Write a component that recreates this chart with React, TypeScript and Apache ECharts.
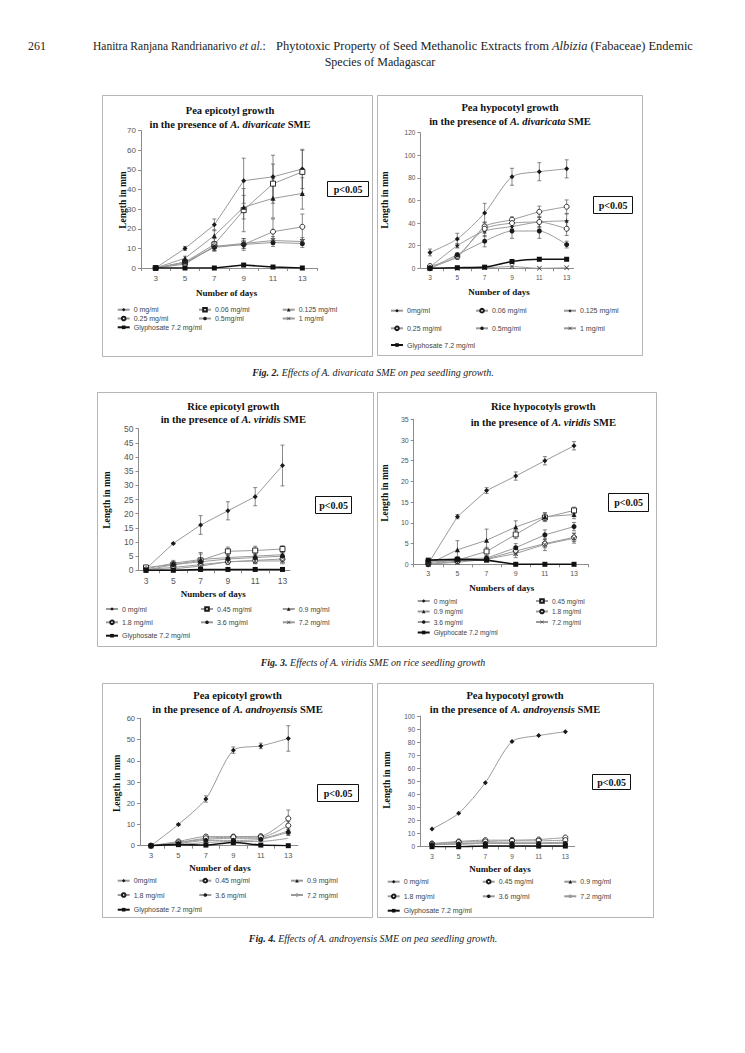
import React, { useEffect, useRef } from "react";
import * as echarts from "echarts";

// ---------- shared data ----------
const days = [3, 5, 7, 9, 11, 13];
const dayTicks = [2, 4, 6, 8, 10, 12, 14];

// Fig. 2 left: Pea epicotyl growth, A. divaricate
const p1Labels = ["0 mg/ml", "0.06 mg/ml", "0.125 mg/ml", "0.25 mg/ml", "0.5mg/ml", "1 mg/ml", "Glyphosate 7.2 mg/ml"];
const p1Values = [
  [0, 10, 22, 44.5, 46.5, 50.5],
  [0, 3, 12, 29.5, 43, 49],
  [0, 5, 16.5, 31, 35.5, 38],
  [0, 2, 11, 12, 18.5, 21],
  [0, 3, 10.5, 12, 13, 12.5],
  [0, 2.5, 11, 12.5, 14, 13.5],
  [0, 0, 0, 1.5, 0.5, 0],
];
const p1Errors = [
  [0, 1, 3, 11.5, 11, 10],
  [0, 1, 3, 11, 10, 11],
  [0, 1, 3, 6, 10, 8],
  [0, 1, 2, 3, 6.5, 6.5],
  [0, 1, 2, 2, 2, 2],
  [0, 1, 2, 2.5, 2, 2],
  [0, 0, 0, 0, 0, 0],
];

// Fig. 2 right: Pea hypocotyl growth, A. divaricata
const p2Labels = ["0mg/ml", "0.06 mg/ml", "0.125 mg/ml", "0.25 mg/ml", "0.5mg/ml", "1 mg/ml", "Glyphosate 7.2 mg/ml"];
const p2Values = [
  [14, 26, 49, 81, 85.5, 88],
  [2, 10, 37, 43, 50, 54.5],
  [1, 20, 33, 37, 41, 42],
  [0, 11, 35, 40, 41, 35],
  [0, 12, 24, 33, 33, 21],
  [0, 0, 0.5, 1.5, 0, 0.5],
  [0, 0.5, 1, 6, 8, 8],
];
const p2Errors = [
  [3, 5, 8.5, 7.5, 8, 8],
  [1, 2, 4, 2.5, 5, 6],
  [1, 2, 5, 3, 4, 6],
  [1, 2, 4, 3, 5, 6],
  [1, 1.5, 5, 6.5, 6.5, 3],
  [0, 0, 0, 0, 0, 0],
  [0, 0, 0, 0.5, 0.5, 0.5],
];

// Fig. 3 left: Rice epicotyl growth, A. viridis
const p3Labels = ["0 mg/ml", "0.45 mg/ml", "0.9 mg/ml", "1.8 mg/ml", "3.6 mg/ml", "7.2 mg/ml", "Glyphosate 7.2 mg/ml"];
const p3Values = [
  [0.5, 9.5, 16, 21, 26, 37],
  [1, 2, 3.5, 6.7, 7, 7.5],
  [0.5, 2.5, 3.8, 4.5, 5, 5.5],
  [0.3, 1, 2, 3, 3.5, 4],
  [0, 2, 3, 4, 4.5, 5],
  [0, 0.5, 1.5, 3, 3.3, 3.3],
  [0, 0, 0.3, 0.3, 0.3, 0.3],
];
const p3Errors = [
  [0.5, 0.3, 3.3, 3.2, 3.2, 7.2],
  [0.5, 1, 2.8, 1.5, 1.5, 1.2],
  [0.5, 1, 2, 1, 1, 1],
  [0.3, 0.5, 1, 1, 1, 1],
  [0.3, 0.5, 1, 1, 1, 1],
  [0.2, 0.5, 0.5, 0.5, 1, 1],
  [0, 0, 0, 0, 0, 0],
];

// Fig. 3 right: Rice hypocotyls growth, A. viridis
const p4Labels = ["0 mg/ml", "0.45 mg/ml", "0.9 mg/ml", "1.8 mg/ml", "3.6 mg/ml", "7.2 mg/ml", "Glyphocate 7.2 mg/ml"];
const p4Values = [
  [0.2, 11.5, 17.8, 21.3, 25, 28.6],
  [0.5, 1, 3.1, 7.2, 11.3, 13],
  [0, 3.5, 5.8, 9, 11.5, 12],
  [0, 0.8, 1.3, 3.2, 5, 6.5],
  [0, 1.3, 1.5, 4, 7.1, 9.1],
  [0, 0.5, 1.2, 2.6, 4.8, 6.3],
  [1, 1.2, 1, 0, 0, 0],
];
const p4Errors = [
  [0.3, 0.5, 0.7, 1, 1, 1],
  [0.3, 0.5, 1, 1, 1, 0.8],
  [0.3, 2.2, 2.7, 1.5, 1, 1],
  [0.2, 0.5, 0.5, 1, 1, 1],
  [0.2, 0.5, 0.5, 1, 1.2, 1],
  [0.2, 0.5, 0.5, 1, 1.5, 1.2],
  [0, 0, 0, 0, 0, 0],
];

// Fig. 4 left: Pea epicotyl growth, A. androyensis
const p5Labels = ["0mg/ml", "0.45 mg/ml", "0.9 mg/ml", "1.8 mg/ml", "3.6 mg/ml", "7.2 mg/ml", "Glyphosate 7.2 mg/ml"];
const p5Values = [
  [0, 10, 22, 45, 47, 50.5],
  [0, 2, 4.3, 4.3, 4.5, 12.8],
  [0, 1.5, 3, 3.5, 3.5, 7],
  [0, 1.5, 3.5, 4, 4, 9.5],
  [0, 1, 2.5, 2.5, 3, 6.3],
  [0, 0.5, 1.5, 2, 2, 3.5],
  [0, 0.5, 0.3, 1.5, 0.3, 0],
];
const p5Errors = [
  [0.3, 0.5, 1.5, 1.5, 1.3, 6],
  [0.3, 0.5, 0.7, 0.7, 0.7, 4],
  [0.2, 0.5, 0.5, 0.5, 0.5, 2],
  [0.2, 0.5, 0.5, 0.5, 0.5, 2],
  [0.2, 0.3, 0.5, 0.5, 0.5, 1.5],
  [0, 0, 0, 0, 0, 0],
  [0, 0, 0, 0, 0, 0],
];

// Fig. 4 right: Pea hypocotyl growth, A. androyensis
const p6Labels = ["0 mg/ml", "0.45 mg/ml", "0.9 mg/ml", "1.8 mg/ml", "3.6 mg/ml", "7.2 mg/ml", "Glyphosate 7.2 mg/ml"];
const p6Values = [
  [13.5, 25.5, 49, 80.5, 85, 88],
  [2.5, 4, 5, 5, 5.5, 7],
  [2, 2.5, 3, 3, 3, 3.5],
  [2, 3.5, 4, 4.5, 4.5, 5],
  [1.5, 2, 2.5, 2.5, 2.5, 2.5],
  [1.5, 2, 2.5, 2.5, 2.5, 3],
  [0, 0, 0.5, 0.5, 0.5, 0.5],
];

// ---------- styles ----------
const XPATH = "path://M1,0 L5,4 L9,0 L10,1 L6,5 L10,9 L9,10 L5,6 L1,10 L0,9 L4,5 L0,1 Z";
const STAR = "path://M5,0 L6.2,3.6 L10,3.6 L7,5.9 L8.1,9.5 L5,7.3 L1.9,9.5 L3,5.9 L0,3.6 L3.8,3.6 Z";
const SYM: any = {
  dia: { symbol: "diamond", size: 5, fill: "#1a1a1a", border: 0 },
  sqo: { symbol: "rect", size: 5, fill: "#ffffff", border: 0.9 },
  tri: { symbol: "triangle", size: 5, fill: "#1a1a1a", border: 0 },
  cio: { symbol: "circle", size: 5, fill: "#ffffff", border: 0.9 },
  cif: { symbol: "circle", size: 5, fill: "#1a1a1a", border: 0 },
  x: { symbol: XPATH, size: 5, fill: "#333333", border: 0 },
  star: { symbol: STAR, size: 5, fill: "#1a1a1a", border: 0 },
  sq: { symbol: "rect", size: 5, fill: "#111111", border: 0 },
  none: { symbol: "none", size: 0, fill: "#999999", border: 0 },
};

const SERIF = '"Liberation Serif", "Times New Roman", serif';
const SANS = '"Liberation Sans", Arial, sans-serif';

const panels: any[] = [
  {
    box: [102, 95, 271, 262], grid: [141, 130.7, 176, 137.3], xMin: 2, xMax: 14, yMax: 70, yStep: 10, tickFont: 8,
    title: "Pea epicotyl growth", species: "A. divaricate", titleX: 230, titleY: [110, 124],
    xName: "Number of days", xNamePos: [226.7, 292.7], yNamePos: [123, 200],
    pBox: [327, 181, 41, 15],
    cols: [116.7, 198, 281.7], rows: [310.7, 319.5, 328.3], perRow: 3, legendFont: 7,
    symbols: ["dia", "sqo", "tri", "cio", "cif", "x", "sq"], smooth: false,
    labels: p1Labels, values: p1Values, errors: p1Errors,
  },
  {
    box: [377, 95, 266, 261], grid: [420.4, 132.7, 153.1, 135.6], xMin: 2.3, xMax: 13.5, yMax: 120, yStep: 20, tickFont: 6.5,
    title: "Pea hypocotyl growth", species: "A. divaricata", titleX: 510, titleY: [107.3, 121.7],
    xName: "Number of days", xNamePos: [499, 291.7], yNamePos: [385, 200],
    pBox: [593, 196, 39, 17],
    cols: [390, 475, 563], rows: [311.7, 329.3, 346], perRow: 3, legendFont: 7,
    symbols: ["dia", "cio", "star", "cio", "cif", "x", "sq"], smooth: 0.25,
    labels: p2Labels, values: p2Values, errors: p2Errors,
  },
  {
    box: [97, 392, 277, 255], grid: [138.5, 428.7, 151.5, 141.6], xMin: 2.45, xMax: 13.55, yMax: 50, yStep: 5, tickFont: 8.5,
    title: "Rice epicotyl growth", species: "A. viridis", titleX: 233.3, titleY: [406, 419.3],
    xName: "Numbers of days", xNamePos: [213.3, 594.3], yNamePos: [107, 500],
    pBox: [315, 496, 36, 17],
    cols: [105, 200, 281.7], rows: [610, 623.3, 636.7], perRow: 3, legendFont: 7,
    symbols: ["dia", "sqo", "tri", "cio", "cif", "x", "sq"], smooth: false,
    labels: p3Labels, values: p3Values, errors: p3Errors,
  },
  {
    box: [377, 392, 280, 255], grid: [413.7, 419.3, 174.9, 145], xMin: 2, xMax: 14, yMax: 35, yStep: 5, tickFont: 7,
    title: "Rice hypocotyls growth", species: "A. viridis", titleX: 543.3, titleY: [406.7, 422.3],
    xName: "Numbers of days", xNamePos: [501.7, 588.3], yNamePos: [385, 493],
    pBox: [608, 493, 40, 18],
    cols: [416.7, 535], rows: [602, 612.5, 623, 633.5], perRow: 2, legendFont: 6.6,
    symbols: ["dia", "sqo", "tri", "cio", "cif", "x", "sq"], smooth: false,
    labels: p4Labels, values: p4Values, errors: p4Errors,
  },
  {
    box: [102, 683, 271, 235], grid: [140, 718.3, 157.9, 127.4], xMin: 2.2, xMax: 13.7, yMax: 60, yStep: 10, tickFont: 7.5,
    title: "Pea epicotyl growth", species: "A. androyensis", titleX: 237.5, titleY: [695.7, 709],
    xName: "Number of days", xNamePos: [220, 868.3], yNamePos: [116.7, 783.3],
    pBox: [317, 784, 41, 17],
    cols: [116.7, 198.3, 290], rows: [881.7, 896, 910.7], perRow: 3, legendFont: 7,
    symbols: ["dia", "cio", "tri", "cio", "cif", "none", "sq"], smooth: 0.25,
    labels: p5Labels, values: p5Values, errors: p5Errors,
  },
  {
    box: [377, 683, 277, 235], grid: [420, 716, 154.7, 130.7], xMin: 2.1, xMax: 13.7, yMax: 100, yStep: 10, tickFont: 6.5,
    title: "Pea hypocotyl growth", species: "A. androyensis", titleX: 515, titleY: [695.7, 709],
    xName: "Number of days", xNamePos: [500, 869], yNamePos: [386.7, 780],
    pBox: [592, 774, 38, 15],
    cols: [386.7, 481.7, 563.3], rows: [882.7, 897.3, 911.7], perRow: 3, legendFont: 7,
    symbols: ["dia", "cio", "tri", "cio", "cif", "none", "sq"], smooth: 0.25,
    labels: p6Labels, values: p6Values, errors: null,
  },
];

function renderErr(params: any, api: any) {
  const x = api.value(0);
  const lo = api.value(1);
  const hi = api.value(2);
  const a = api.coord([x, hi]);
  const b = api.coord([x, lo]);
  const st = { stroke: "#555555", lineWidth: 0.7, fill: null };
  return {
    type: "group",
    children: [
      { type: "line", shape: { x1: a[0], y1: a[1], x2: b[0], y2: b[1] }, style: st },
      { type: "line", shape: { x1: a[0] - 2, y1: a[1], x2: a[0] + 2, y2: a[1] }, style: st },
      { type: "line", shape: { x1: b[0] - 2, y1: b[1], x2: b[0] + 2, y2: b[1] }, style: st },
    ],
  };
}

function buildOption(cfg: any) {
  const ox = cfg.box[0];
  const oy = cfg.box[1];
  const w = cfg.box[2];
  const h = cfg.box[3];
  const series: any[] = [];
  cfg.labels.forEach((name: string, i: number) => {
    const s = SYM[cfg.symbols[i]];
    const glyph = i === cfg.labels.length - 1;
    series.push({
      type: "line",
      name,
      data: days.map((d, j) => [d, cfg.values[i][j]]),
      symbol: s.symbol,
      symbolSize: s.size,
      showSymbol: s.symbol !== "none",
      smooth: cfg.smooth,
      lineStyle: { color: glyph ? "#111111" : "#9a9a9a", width: glyph ? 1.6 : 1 },
      itemStyle: { color: s.fill, borderColor: "#1a1a1a", borderWidth: s.border },
      emphasis: { disabled: true },
      z: glyph ? 4 : 3,
      silent: true,
    });
  });
  if (cfg.errors) {
    const errData: any[] = [];
    cfg.errors.forEach((arr: number[], i: number) =>
      arr.forEach((e, j) => {
        if (e > 0) {
          const v = cfg.values[i][j];
          errData.push([days[j], Math.max(0, v - e), v + e]);
        }
      })
    );
    series.push({
      type: "custom",
      name: "error",
      data: errData,
      renderItem: renderErr,
      encode: { x: 0, y: [1, 2] },
      z: 2,
      silent: true,
    });
  }

  const legends = cfg.labels.map((name: string, i: number) => {
    const col = i % cfg.perRow;
    const row = Math.floor(i / cfg.perRow);
    return {
      data: [name],
      left: cfg.cols[col] - ox,
      top: cfg.rows[row] - oy - 4.5,
      padding: 0,
      itemWidth: 12,
      itemHeight: 4.5,
      itemGap: 0,
      selectedMode: false,
      textStyle: { fontSize: cfg.legendFont, color: "#444444", fontFamily: SANS, padding: [0, 0, 0, -1] },
    };
  });

  const pb = cfg.pBox;
  const graphic: any[] = [
    {
      type: "rect",
      shape: { x: 0.5, y: 0.5, width: w - 1, height: h - 1 },
      style: { fill: "none", stroke: "#b5b5b5", lineWidth: 1 },
      silent: true,
    },
    {
      type: "text",
      x: cfg.titleX - ox,
      y: cfg.titleY[0] - oy,
      style: {
        text: cfg.title,
        fontFamily: SERIF, fontWeight: "bold", fontSize: 10.5, fill: "#111111",
        textAlign: "center", align: "center", textVerticalAlign: "middle", verticalAlign: "middle",
      },
    },
    {
      type: "text",
      x: cfg.titleX - ox,
      y: cfg.titleY[1] - oy,
      style: {
        text: "{n|in the presence of }{i|" + cfg.species + "}{n| SME}",
        rich: {
          n: { fontFamily: SERIF, fontWeight: "bold", fontSize: 10.5, fill: "#111111" },
          i: { fontFamily: SERIF, fontWeight: "bold", fontStyle: "italic", fontSize: 10.5, fill: "#111111" },
        },
        textAlign: "center", align: "center", textVerticalAlign: "middle", verticalAlign: "middle",
      },
    },
    {
      type: "text",
      x: cfg.xNamePos[0] - ox,
      y: cfg.xNamePos[1] - oy,
      style: {
        text: cfg.xName,
        fontFamily: SERIF, fontWeight: "bold", fontSize: 9, fill: "#111111",
        textAlign: "center", align: "center", textVerticalAlign: "middle", verticalAlign: "middle",
      },
    },
    {
      type: "text",
      x: cfg.yNamePos[0] - ox,
      y: cfg.yNamePos[1] - oy,
      rotation: Math.PI / 2,
      style: {
        text: "Length in mm",
        fontFamily: SERIF, fontWeight: "bold", fontSize: 9.5, fill: "#111111",
        textAlign: "center", align: "center", textVerticalAlign: "middle", verticalAlign: "middle",
      },
    },
    {
      type: "rect",
      shape: { x: Math.round(pb[0] - ox) + 0.5, y: Math.round(pb[1] - oy) + 0.5, width: pb[2], height: pb[3] },
      style: { fill: "#ffffff", stroke: "#111111", lineWidth: 1 },
    },
    {
      type: "text",
      x: Math.round(pb[0] - ox) + 0.5 + pb[2] / 2,
      y: Math.round(pb[1] - oy) + 0.5 + pb[3] / 2,
      style: {
        text: "p<0.05",
        fontFamily: SERIF, fontWeight: "bold", fontSize: 10, fill: "#111111",
        textAlign: "center", align: "center", textVerticalAlign: "middle", verticalAlign: "middle",
      },
    },
  ];

  const axisColor = "#8c8c8c";
  return {
    animation: false,
    backgroundColor: "#ffffff",
    grid: {
      left: cfg.grid[0] - ox,
      top: cfg.grid[1] - oy,
      width: cfg.grid[2],
      height: cfg.grid[3],
      containLabel: false,
    },
    xAxis: {
      type: "value",
      min: cfg.xMin,
      max: cfg.xMax,
      axisLine: { show: true, onZero: true, lineStyle: { color: axisColor, width: 1 } },
      axisTick: {
        show: true,
        length: 3,
        customValues: dayTicks.filter((t) => t >= cfg.xMin && t <= cfg.xMax),
        lineStyle: { color: axisColor },
      },
      axisLabel: {
        customValues: days,
        fontSize: cfg.tickFont,
        color: "#555555",
        fontFamily: SANS,
        margin: 6,
      },
      splitLine: { show: false },
    },
    yAxis: {
      type: "value",
      min: 0,
      max: cfg.yMax,
      interval: cfg.yStep,
      axisLine: { show: true, lineStyle: { color: axisColor, width: 1 } },
      axisTick: { show: true, length: 3, lineStyle: { color: axisColor } },
      axisLabel: { fontSize: cfg.tickFont, color: "#555555", fontFamily: SANS, margin: 5 },
      splitLine: { show: false },
    },
    legend: legends,
    series,
    graphic,
  };
}

function Panel({ cfg }: { cfg: any }) {
  const ref = useRef<HTMLDivElement>(null);
  useEffect(() => {
    if (!ref.current) return;
    const chart = echarts.init(ref.current, null, { renderer: "svg" });
    chart.setOption(buildOption(cfg));
    return () => chart.dispose();
  }, [cfg]);
  return (
    <div
      ref={ref}
      style={{
        position: "absolute",
        left: cfg.box[0],
        top: cfg.box[1],
        width: cfg.box[2],
        height: cfg.box[3],
      }}
    />
  );
}

const captionStyle: React.CSSProperties = {
  position: "absolute",
  left: 0,
  width: 746,
  textAlign: "center",
  fontFamily: SERIF,
  fontStyle: "italic",
  fontSize: 10,
  lineHeight: "12px",
  color: "#222",
  whiteSpace: "nowrap",
};

const headStyle: React.CSSProperties = {
  position: "absolute",
  fontFamily: SERIF,
  fontSize: 12,
  lineHeight: "14px",
  color: "#222",
  whiteSpace: "nowrap",
};

export default function App() {
  return (
    <div
      style={{
        position: "absolute",
        left: 0,
        top: 0,
        width: 745,
        height: 1053,
        background: "#ffffff",
        overflow: "hidden",
      }}
    >
      <div style={{ ...headStyle, left: 28, top: 39 }}>261</div>
      <div style={{ ...headStyle, left: 93, top: 39, fontSize: 11.5 }}>
        Hanitra Ranjana Randrianarivo <i>et al.</i>:
      </div>
      <div style={{ ...headStyle, left: 276, top: 39, fontSize: 12.5 }}>
        Phytotoxic Property of Seed Methanolic Extracts from <i>Albizia</i> (Fabaceae) Endemic
      </div>
      <div style={{ ...headStyle, left: 0, width: 760, textAlign: "center", top: 55 }}>Species of Madagascar</div>

      {panels.map((p, i) => (
        <Panel key={i} cfg={p} />
      ))}

      <div style={{ ...captionStyle, top: 366.5 }}>
        <b>Fig. 2.</b> Effects of A. divaricata SME on pea seedling growth.
      </div>
      <div style={{ ...captionStyle, top: 657 }}>
        <b>Fig. 3.</b> Effects of A. viridis SME on rice seedling growth
      </div>
      <div style={{ ...captionStyle, top: 933 }}>
        <b>Fig. 4.</b> Effects of A. androyensis SME on pea seedling growth.
      </div>
    </div>
  );
}
